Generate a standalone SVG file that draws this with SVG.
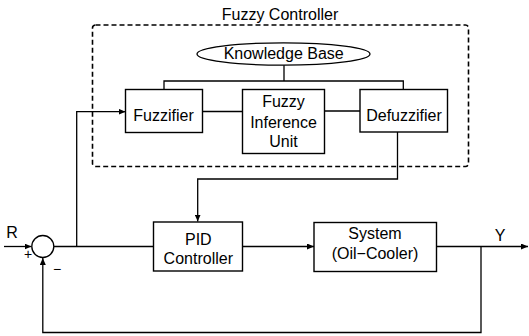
<svg xmlns="http://www.w3.org/2000/svg" width="529" height="336" viewBox="0 0 529 336">
<defs>
<marker id="arr" markerUnits="userSpaceOnUse" markerWidth="8" markerHeight="6" refX="7" refY="3" orient="auto">
<path d="M0,0 L7,3 L0,6 Z" fill="#000"/>
</marker>
<style>
text{font-family:"Liberation Sans",Arial,sans-serif;font-size:16px;fill:#000;text-anchor:middle}
.box{fill:#fff;stroke:#000;stroke-width:1.4}
.ln{fill:none;stroke:#000;stroke-width:1.3}
.dash{fill:none;stroke:#000;stroke-width:1.6;stroke-dasharray:5,3}
</style>
</defs>
<rect width="529" height="336" fill="#fff"/>
<g id="fuzzy-controller">
<rect class="dash" x="92.5" y="25" width="376" height="141.5" rx="3"/>
<text x="280" y="20">Fuzzy Controller</text>
</g>
<g id="connectors">
<path class="ln" d="M284,65 V81 M164,89.5 V81 H403.3 V89.5"/>
<path class="ln" d="M202.7,111.5 H242.5 M324.5,111 H360"/>
<path class="ln" d="M397.5,132 V179 H197.7 V221.5" marker-end="url(#arr)"/>
<path class="ln" d="M4,246.5 H31.5" marker-end="url(#arr)"/>
<path class="ln" d="M54,246.5 H153.5"/>
<path class="ln" d="M76.7,246.5 V111.7 H125.5" marker-end="url(#arr)"/>
<path class="ln" d="M242.7,246.5 H314" marker-end="url(#arr)"/>
<path class="ln" d="M436.5,246.5 H528" marker-end="url(#arr)"/>
<path class="ln" d="M481,246.5 V332.5 H42.8 V258" marker-end="url(#arr)"/>
</g>
<g id="knowledge-base">
<ellipse cx="283.5" cy="54" rx="86.5" ry="11.2" fill="#fff" stroke="#000" stroke-width="1.3"/>
<text x="283.7" y="58.5">Knowledge Base</text>
</g>
<g id="fuzzifier">
<rect class="box" x="125.5" y="89.5" width="77" height="43"/>
<text x="163.5" y="121">Fuzzifier</text>
</g>
<g id="inference">
<rect class="box" x="242.5" y="89.5" width="82" height="64"/>
<text x="283.5" y="107">Fuzzy</text>
<text x="283.5" y="128">Inference</text>
<text x="283.5" y="147">Unit</text>
</g>
<g id="defuzzifier">
<rect class="box" x="360" y="89.5" width="87.5" height="42.5"/>
<text x="404" y="121">Defuzzifier</text>
</g>
<g id="summer">
<circle cx="42.8" cy="246.5" r="11" fill="#fff" stroke="#000" stroke-width="1.3"/>
<text x="28" y="259" style="font-size:14px">+</text>
<text x="57" y="274" style="font-size:14px">−</text>
<text x="12" y="238">R</text>
</g>
<g id="pid">
<rect class="box" x="153.5" y="222" width="89" height="49"/>
<text x="198.3" y="245">PID</text>
<text x="198.3" y="264">Controller</text>
</g>
<g id="system">
<rect class="box" x="314" y="222.5" width="122.5" height="49"/>
<text x="375" y="239">System</text>
<text x="375" y="259">(Oil−Cooler)</text>
</g>
<g id="output">
<text x="500" y="241">Y</text>
</g>
</svg>
